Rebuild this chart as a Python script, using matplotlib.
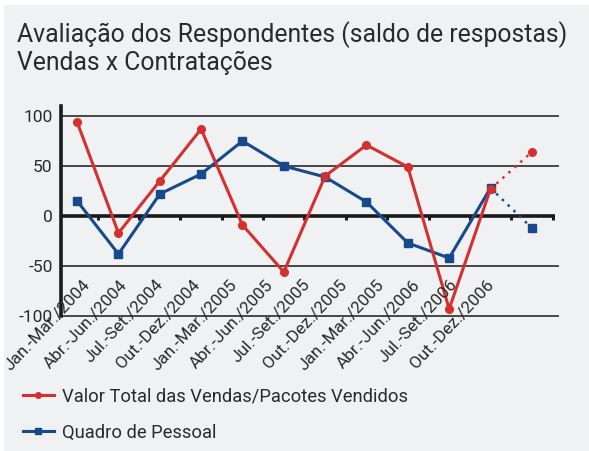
import numpy as np
import matplotlib
matplotlib.use("Agg")
import matplotlib.pyplot as plt
from matplotlib.patches import Rectangle
from matplotlib.lines import Line2D

# quarters
periods = ["Jan.-Mar./2004", "Abr.-Jun./2004", "Jul.-Set./2004", "Out.-Dez./2004",
           "Jan.-Mar./2005", "Abr.-Jun./2005", "Jul.-Set./2005", "Out.-Dez./2005",
           "Jan.-Mar./2005", "Abr.-Jun./2006", "Jul.-Set./2006", "Out.-Dez./2006"]
vendas = [94, -17, 35, 87, -9, -56, 40, 71, 49, -93, 27, 64]
pessoal = [15, -38, 22, 42, 75, 50, 39, 14, -27, -42, 28, -12]
yticks = [-100, -50, 0, 50, 100]

RED = "#d3302f"
BLUE = "#174a8d"
BG = "#f0f1f3"
GRID = "#3a3a3a"
TXT = "#2a2a2a"

plt.rcParams["font.family"] = ["Roboto", "DejaVu Sans"]

W, H = 589, 451
fig = plt.figure(figsize=(W / 100, H / 100), dpi=100)
fig.patch.set_facecolor("white")
fig.add_artist(Rectangle((4 / W, 0), 1, 1 - 5 / H, transform=fig.transFigure,
                         facecolor=BG, edgecolor="none", zorder=0))

fig.text(17 / W, 1 - 42 / H, "Avaliação dos Respondentes (saldo de respostas)",
         fontsize=17.8, color=TXT, va="baseline", ha="left")
fig.text(17 / W, 1 - 70 / H, "Vendas x Contratações",
         fontsize=17.8, color=TXT, va="baseline", ha="left")

ax = fig.add_axes([61 / W, 1 - 316 / H, (555 - 61) / W, 210 / H])
ax.set_facecolor("none")
x = np.arange(len(periods))
ax.set_xlim(-0.39, len(periods) - 0.44)
ax.set_ylim(-100, 110)

for yv in [-100, -50, 50, 100]:
    ax.axhline(yv, color=GRID, lw=1.3, xmax=1.006, clip_on=False, zorder=1)
ax.axhline(0, color="#1a1a1a", lw=2.6, zorder=1)
for xb in np.arange(0.5, len(periods), 1.0):
    ax.plot([xb, xb], [0, -4], color="#1a1a1a", lw=2.2, zorder=1, solid_capstyle="butt")

for s in ["top", "right", "bottom"]:
    ax.spines[s].set_visible(False)
ax.spines["left"].set_linewidth(2.6)
ax.spines["left"].set_color("#1a1a1a")

ax.set_xticks([])
ax.set_yticks(yticks)
ax.set_yticklabels([str(v) for v in yticks])
ax.tick_params(axis="y", length=0, pad=6, labelsize=12.5, labelcolor=TXT)

ax.plot(x[:-1], vendas[:-1], color=RED, lw=2.2, marker="o", ms=5.5, zorder=3)
ax.plot(x[-2:], vendas[-2:], color=RED, lw=1.8, ls=(0, (1, 2.2)), zorder=3)
ax.plot(x[-1], vendas[-1], color=RED, marker="o", ms=5.5, zorder=3)
ax.plot(x[:-1], pessoal[:-1], color=BLUE, lw=2.2, marker="s", ms=5.5, zorder=2)
ax.plot(x[-2:], pessoal[-2:], color=BLUE, lw=1.8, ls=(0, (1, 2.2)), zorder=2)
ax.plot(x[-1], pessoal[-1], color=BLUE, marker="s", ms=5.5, zorder=2)

for i, lab in enumerate(periods):
    ax.text(i * 0.888 + 0.12, -61, lab, rotation=47, rotation_mode="anchor",
            ha="right", va="top", fontsize=12.3, color=TXT)

handles = [Line2D([], [], color=RED, lw=2.2, marker="o", ms=4),
           Line2D([], [], color=BLUE, lw=2.2, marker="s", ms=4)]
fig.legend(handles, ["Valor Total das Vendas/Pacotes Vendidos", "Quadro de Pessoal"],
           loc="upper left", bbox_to_anchor=(6 / W, 1 - 371 / H), frameon=False,
           fontsize=13.2, handlelength=1.7, handletextpad=0.45, labelspacing=1.0,
           labelcolor=TXT)

fig.savefig("out.png", dpi=100, facecolor=fig.get_facecolor())
